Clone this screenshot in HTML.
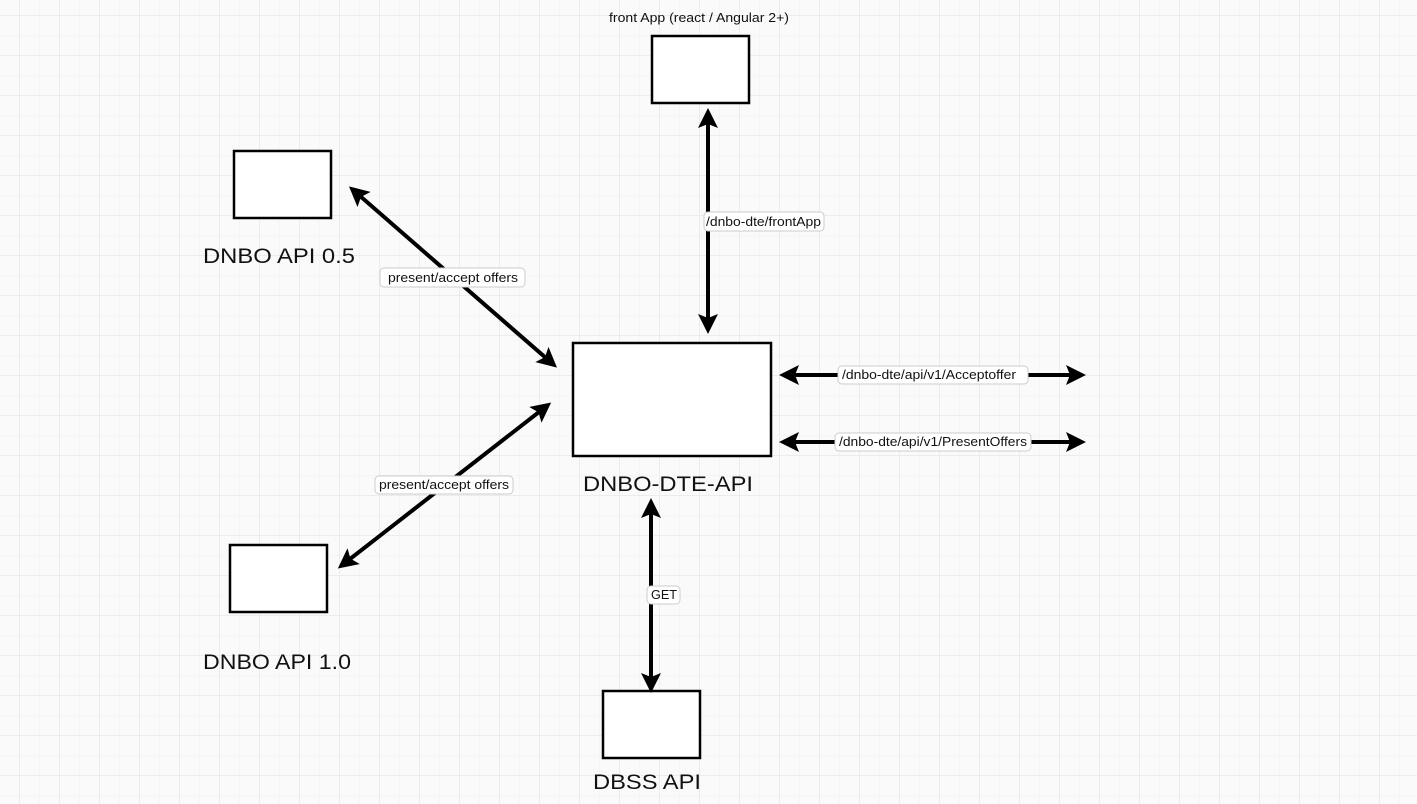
<!DOCTYPE html>
<html><head><meta charset="utf-8"><style>
html,body{margin:0;padding:0;background:#fafafa}
svg{display:block}
text{font-family:"Liberation Sans",sans-serif;fill:#111}
</style></head><body>
<svg width="1417" height="804" viewBox="0 0 1417 804" xmlns="http://www.w3.org/2000/svg">
<defs>
<pattern id="minor" width="20" height="20" patternUnits="userSpaceOnUse" x="19" y="15">
<path d="M0 0H20M0 0V20" stroke="#f0f0f0" stroke-width="1" fill="none"/>
</pattern>
<pattern id="major" width="40" height="40" patternUnits="userSpaceOnUse" x="19" y="15">
<path d="M0 0H40M0 0V40" stroke="#ececec" stroke-width="2" fill="none"/>
</pattern>
<marker id="ah" viewBox="0 0 10 10" refX="8" refY="5" markerWidth="5" markerHeight="5" orient="auto-start-reverse" markerUnits="strokeWidth">
<path d="M0 0 L10 5 L0 10 L2 5 Z" fill="#000"/>
</marker>
</defs>
<rect width="1417" height="804" fill="#fafafa"/>
<rect width="1417" height="804" fill="url(#minor)"/>
<rect width="1417" height="804" fill="url(#major)"/>

<g fill="#fff" stroke="#000" stroke-width="2.5">
<rect x="652" y="36" width="97" height="67"/>
<rect x="234" y="151" width="97" height="67"/>
<rect x="230" y="545" width="97" height="67"/>
<rect x="603" y="691" width="97" height="67"/>
<rect x="573" y="343" width="198" height="113"/>
</g>

<g stroke="#000" stroke-width="4" fill="none" marker-start="url(#ah)" marker-end="url(#ah)">
<line x1="708" y1="112" x2="708" y2="330"/>
<line x1="352" y1="189" x2="554" y2="365"/>
<line x1="548" y1="405" x2="341" y2="566"/>
<line x1="651" y1="502" x2="651" y2="689"/>
<line x1="783" y1="375" x2="1082" y2="375"/>
<line x1="783" y1="442" x2="1082" y2="442"/>
</g>

<g fill="#fff" stroke="#ccc" stroke-width="1">
<rect x="704" y="212" width="120" height="19" rx="4"/>
<rect x="380" y="268" width="145" height="19" rx="4"/>
<rect x="375" y="476" width="138" height="18" rx="4"/>
<rect x="647" y="586" width="33" height="18" rx="4"/>
<rect x="838" y="366" width="190" height="18" rx="4"/>
<rect x="835" y="433" width="196" height="18" rx="4"/>
</g>
<g font-size="13" lengthAdjust="spacingAndGlyphs">
<text x="706" y="226" textLength="115" lengthAdjust="spacingAndGlyphs">/dnbo-dte/frontApp</text>
<text x="388" y="282" textLength="130" lengthAdjust="spacingAndGlyphs">present/accept offers</text>
<text x="379" y="489" textLength="130" lengthAdjust="spacingAndGlyphs">present/accept offers</text>
<text x="651" y="599" textLength="26" lengthAdjust="spacingAndGlyphs">GET</text>
<text x="842" y="379" textLength="174" lengthAdjust="spacingAndGlyphs">/dnbo-dte/api/v1/Acceptoffer</text>
<text x="839" y="446" textLength="188" lengthAdjust="spacingAndGlyphs">/dnbo-dte/api/v1/PresentOffers</text>
<text x="609" y="22" textLength="180" lengthAdjust="spacingAndGlyphs">front App (react / Angular 2+)</text>
</g>
<g font-size="21">
<text x="203" y="263" textLength="152" lengthAdjust="spacingAndGlyphs">DNBO API 0.5</text>
<text x="203" y="669" textLength="148" lengthAdjust="spacingAndGlyphs">DNBO API 1.0</text>
<text x="583" y="491" textLength="170" lengthAdjust="spacingAndGlyphs">DNBO-DTE-API</text>
<text x="593" y="789" textLength="108" lengthAdjust="spacingAndGlyphs">DBSS API</text>
</g>
</svg>
</body></html>
